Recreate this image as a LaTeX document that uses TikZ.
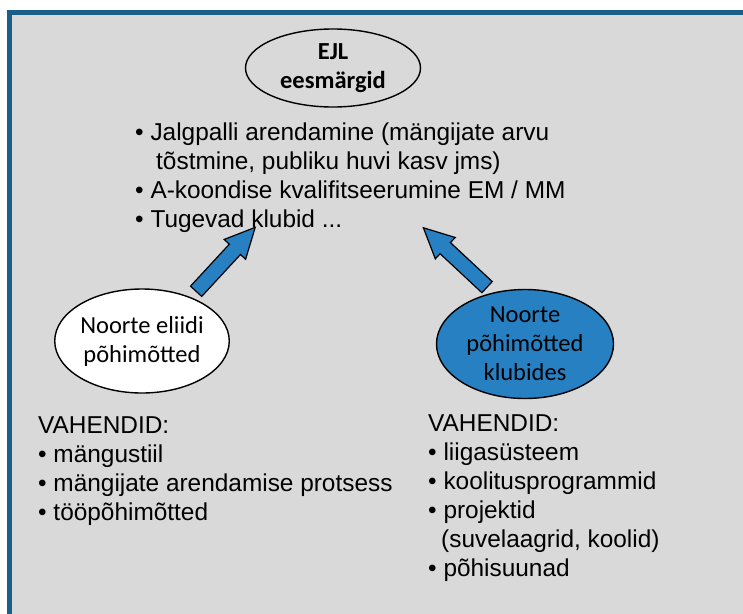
\documentclass[tikz,border=0pt]{standalone}
\usepackage{fontspec}
\setmainfont{Liberation Sans}
\newfontfamily\calibri{Carlito}
\usetikzlibrary{shapes.geometric,shapes.arrows,calc}

\definecolor{framecol}{RGB}{28,94,138}
\definecolor{panelcol}{RGB}{217,217,217}
\definecolor{arrowcol}{RGB}{38,128,194}

\tikzset{
    bubble/.style={ellipse,draw=black,line width=1.4pt,inner sep=0pt,align=center,
        font=\calibri\fontsize{24.5}{29}\selectfont},
    itemlist/.style={anchor=base west,inner sep=0pt,align=left,
        font=\fontsize{24.4}{29}\selectfont},
    bigarrow/.style={single arrow,draw=black,fill=arrowcol,line width=1.2pt,inner sep=7pt,
        single arrow head extend=7pt,single arrow tip angle=52}
}

\begin{document}
\begin{tikzpicture}[x=1pt,y=-1pt]
    \useasboundingbox [fill=white] (0,0) rectangle (743,613);

    \draw [framecol,line width=5pt,fill=panelcol] (9.5,12.5) rectangle (770,640);

    % goals (lists are anchored at their last baseline)
    \node [bubble,minimum width=175pt,minimum height=78pt] (goals) at (333,68)
        {\bfseries EJL\\\bfseries eesmärgid};
    \node [itemlist] (goallist) at (135,227) {%
        \textbullet{} Jalgpalli arendamine (mängijate arvu\\
        \hspace*{21pt}tõstmine, publiku huvi kasv jms)\\
        \textbullet{} A-koondise kvalifitseerumine EM / MM\\
        \textbullet{} Tugevad klubid ...};

    % principles
    \node [bubble,fill=white,minimum width=170pt,minimum height=104pt] (elite) at (142,341)
        {Noorte eliidi\\põhimõtted};
    \node [bubble,fill=arrowcol,minimum width=177pt,minimum height=109pt] (clubs) at (525,344)
        {Noorte\\põhimõtted\\klubides};

    \coordinate (elitetip) at (250,233);
    \coordinate (clubstip) at (429,233);

    \foreach \from/\to in {elite.42/elitetip,clubs.122/clubstip}{%
        \path let \p1 = ($(\to)-(\from)$) in
            node [bigarrow,minimum height={veclen(\x1,\y1)},rotate={atan2(\y1,\x1)}]
            at ($(\from)!.5!(\to)$) {};
    }

    % tools
    \node [itemlist] (elitetools) at (38,520) {%
        VAHENDID:\\
        \textbullet{} mängustiil\\
        \textbullet{} mängijate arendamise protsess\\
        \textbullet{} tööpõhimõtted};
    \node [itemlist] (clubtools) at (428,576) {%
        VAHENDID:\\
        \textbullet{} liigasüsteem\\
        \textbullet{} koolitusprogrammid\\
        \textbullet{} projektid\\
        \hspace*{13pt}(suvelaagrid, koolid)\\
        \textbullet{} põhisuunad};

\end{tikzpicture}
\end{document}
